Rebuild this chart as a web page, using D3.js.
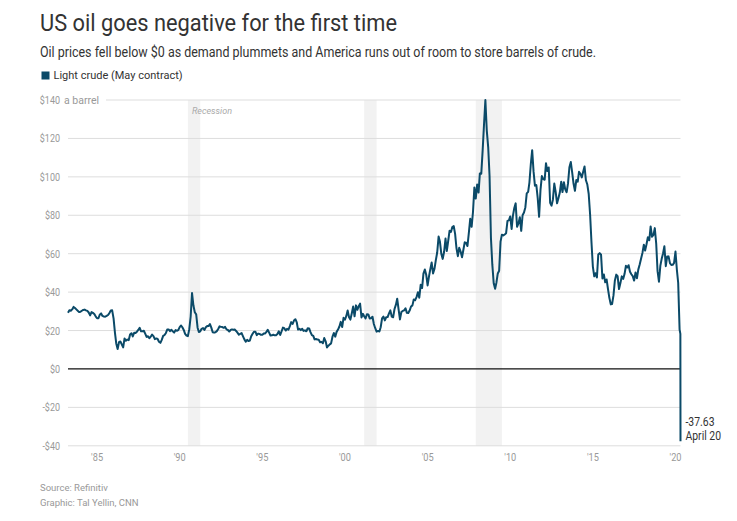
<!DOCTYPE html>
<html>
<head>
<meta charset="utf-8">
<script src="https://cdn.jsdelivr.net/npm/d3@7"></script>
<style>
	body {
		margin: 0;
		background: #fff;
	}
	.cond {
		font-family: "Roboto", "Liberation Sans", sans-serif;
	}
	.reg {
		font-family: "Roboto", "Liberation Sans", sans-serif;
	}
</style>
</head>
<body>
<div id="chart"></div>
<script>
// month-end closes, light crude, first value is 30 March 1983
const closes1983to1989 = [
	29.3, 30.6, 30.3, 31.0, 32.3, 31.7, 31.0, 30.3, 29.6, 29.8,
	30.3, 30.7, 30.9, 30.5, 30.2, 29.4, 27.9, 29.6, 29.2, 28.6, 27.4, 26.4,
	26.4, 28.2, 28.9, 27.6, 27.3, 27.2, 27.6, 28.1, 29.1, 30.4, 30.5, 26.3,
	18.8, 13.3, 10.4, 13.9, 14.3, 12.8, 11.2, 15.9, 14.7, 15.3, 15.0, 17.9,
	18.6, 16.9, 18.8, 18.7, 19.4, 20.3, 21.4, 19.6, 19.6, 19.9, 18.4, 16.7,
	17.0, 16.0, 16.8, 17.9, 17.1, 15.5, 15.9, 15.6, 14.2, 13.6, 15.1, 17.2,
	17.7, 18.6, 20.5, 20.6, 19.7, 20.4, 19.6, 18.9, 20.2, 19.9, 20.2, 21.8,
];
const closes1990s = [
	22.6, 21.7, 20.3, 18.3, 17.4, 17.1, 20.7, 27.3, 39.5, 33.0, 29.5, 28.4,
	21.5, 19.2, 19.6, 20.9, 21.3, 20.3, 21.7, 22.3, 22.3, 23.4, 21.5, 19.1,
	18.9, 19.1, 19.7, 20.8, 22.2, 21.9, 21.8, 21.4, 21.9, 20.6, 20.3, 19.5,
	20.3, 20.6, 20.4, 20.5, 19.8, 18.9, 17.8, 18.3, 18.7, 17.0, 15.4, 14.2,
	15.2, 14.5, 14.8, 17.0, 18.3, 19.4, 19.4, 17.6, 18.4, 18.2, 17.8, 17.8,
	18.4, 18.5, 19.2, 20.4, 18.9, 17.4, 17.5, 17.8, 17.5, 17.6, 18.2, 19.6,
	17.7, 19.5, 21.5, 21.2, 20.0, 20.9, 20.4, 22.3, 24.4, 23.4, 25.2, 25.9,
	24.2, 20.5, 20.9, 20.2, 20.9, 19.8, 20.1, 19.6, 21.2, 21.1, 19.2, 17.6,
	17.2, 15.4, 15.6, 15.3, 15.2, 13.9, 14.1, 13.4, 16.1, 14.4, 11.2, 12.1,
	12.8, 13.3, 16.8, 18.7, 16.8, 19.3, 20.5, 22.1, 24.5, 21.8, 26.6, 25.6,
];
const closes2000s = [
	27.6, 30.4, 26.9, 25.7, 29.0, 32.5, 27.4, 33.1, 30.8, 32.7, 34.0, 26.8,
	28.7, 27.4, 26.3, 28.5, 28.4, 26.3, 26.4, 27.2, 23.4, 21.2, 19.4, 19.8,
	19.5, 21.7, 26.3, 27.3, 25.3, 26.9, 27.0, 28.9, 30.5, 27.2, 26.9, 31.2,
	33.5, 36.6, 31.0, 25.8, 29.6, 30.2, 30.5, 31.6, 29.2, 29.1, 30.4, 32.5,
	33.1, 36.2, 35.8, 37.4, 39.9, 37.1, 43.8, 42.1, 49.6, 51.8, 49.1, 43.5,
	48.2, 51.8, 55.4, 49.7, 52.0, 56.5, 60.6, 68.9, 66.2, 59.8, 57.3, 61.0,
	67.9, 61.4, 66.6, 71.9, 71.3, 73.9, 74.4, 70.3, 62.9, 58.7, 63.1, 61.1,
	58.1, 61.8, 65.9, 65.7, 64.0, 70.7, 78.2, 74.0, 81.7, 94.5, 88.7, 96.0,
	91.8, 101.8, 101.6, 113.5, 127.4, 140.0, 124.1, 115.5, 100.6, 68.1, 54.4, 44.6,
	41.7, 44.8, 49.7, 51.1, 66.3, 69.9, 69.5, 70.0, 70.6, 77.0, 77.3, 79.4,
];
const closes2010s = [
	72.9, 79.7, 83.8, 86.2, 74.0, 75.6, 79.0, 71.9, 80.0, 81.4, 84.1, 91.4,
	92.2, 97.0, 106.7, 113.9, 102.7, 95.4, 95.7, 88.8, 79.2, 93.2, 100.4, 98.8,
	98.5, 107.1, 103.0, 104.9, 86.5, 85.0, 88.1, 96.5, 92.2, 86.2, 88.9, 91.8,
	97.5, 92.1, 97.2, 93.5, 92.0, 96.6, 105.0, 107.7, 102.3, 96.4, 92.7, 98.4,
	97.5, 102.6, 101.6, 99.7, 102.7, 105.4, 98.2, 96.0, 91.2, 80.5, 66.2, 53.3,
	48.2, 49.8, 47.6, 59.6, 60.3, 59.5, 47.1, 49.2, 45.1, 46.6, 41.7, 37.0,
	33.6, 33.8, 38.3, 45.9, 49.1, 48.3, 41.6, 44.7, 48.2, 46.9, 49.4, 53.7,
	52.8, 54.0, 50.6, 49.3, 48.3, 46.0, 50.2, 47.2, 51.7, 54.4, 57.4, 60.4,
	64.7, 61.6, 64.9, 68.6, 67.0, 74.2, 68.8, 69.8, 73.3, 65.3, 50.9, 45.4,
	53.8, 57.2, 60.1, 63.9, 53.5, 58.5, 58.6, 55.1, 54.1, 54.2, 55.2, 61.1,
];
const closes2020 = [51.6, 44.8, 20.5];
// last daily settlements before the contract expired
const lastDays = ["2020-04-17", "2020-04-20"];
const lastValues = [18.27, -37.63];

const recessions = [
	["1990-07-01", "1991-03-31"],
	["2001-03-01", "2001-11-30"],
	["2007-12-01", "2009-06-30"],
];
const yTicks = [-40, -20, 0, 20, 40, 60, 80, 100, 120, 140];
const xTickYears = [1985, 1990, 1995, 2000, 2005, 2010, 2015, 2020];

const width = 737;
const height = 521;
const lineColor = "#0b4a68";

const parse = d3.timeParse("%Y-%m-%d");

// no narrow font installed, so squeeze the text horizontally instead
function condense(sel, k) {
	sel.each(function () {
		const len = this.getComputedTextLength();
		d3.select(this)
			.attr("textLength", len * k)
			.attr("lengthAdjust", "spacingAndGlyphs");
	});
}

// build the monthly series: value i sits at the end of month i after March 1983
const monthly = [].concat(closes1983to1989, closes1990s, closes2000s, closes2010s, closes2020);
const data = monthly.map(function (v, i) {
	const date = i === 0 ? parse("1983-03-30") : d3.timeDay.offset(new Date(1983, 3 + i, 1), -1);
	return { date: date, value: v };
});
for (let i = 0; i < lastDays.length; i++) {
	data.push({ date: parse(lastDays[i]), value: lastValues[i] });
}

const x = d3
	.scaleTime()
	.domain(d3.extent(data, (d) => d.date))
	.range([68, 680.5]);
const y = d3.scaleLinear().domain([-40, 140]).range([445.8, 100]);

const svg = d3
	.select("#chart")
	.append("svg")
	.attr("width", width)
	.attr("height", height);

// headings
svg.append("text")
	.attr("class", "cond")
	.attr("x", 40)
	.attr("y", 31)
	.attr("font-size", 24)
	.attr("fill", "#333")
	.text("US oil goes negative for the first time")
	.attr("textLength", 357)
	.attr("lengthAdjust", "spacingAndGlyphs");
svg.append("text")
	.attr("class", "cond")
	.attr("x", 40)
	.attr("y", 57)
	.attr("font-size", 14)
	.attr("fill", "#333")
	.text("Oil prices fell below $0 as demand plummets and America runs out of room to store barrels of crude.")
	.attr("textLength", 556)
	.attr("lengthAdjust", "spacingAndGlyphs");

// legend
svg.append("rect")
	.attr("x", 41.5)
	.attr("y", 71.5)
	.attr("width", 8)
	.attr("height", 8)
	.attr("fill", lineColor);
svg.append("text")
	.attr("class", "reg")
	.attr("x", 53.5)
	.attr("y", 79)
	.attr("font-size", 11)
	.attr("fill", "#333")
	.text("Light crude (May contract)");

// recession bands
const bands = svg.append("g");
bands
	.selectAll("rect")
	.data(recessions)
	.join("rect")
	.attr("x", (d) => x(parse(d[0])))
	.attr("width", (d) => x(parse(d[1])) - x(parse(d[0])))
	.attr("y", y(140))
	.attr("height", y(-40) - y(140))
	.attr("fill", "#f2f2f2");
bands
	.append("text")
	.attr("class", "reg")
	.attr("x", x(parse(recessions[0][0])) + 4)
	.attr("y", 114)
	.attr("font-size", 9)
	.attr("font-style", "italic")
	.attr("fill", "#aaa")
	.text("Recession");

// y grid and labels
const grid = svg.append("g");
grid.selectAll("line")
	.data(yTicks)
	.join("line")
	.attr("x1", (d) => (d === 140 ? 106 : x.range()[0]))
	.attr("x2", x.range()[1])
	.attr("y1", (d) => y(d))
	.attr("y2", (d) => y(d))
	.attr("stroke", (d) => (d === 0 ? "#111" : "#ddd"))
	.attr("stroke-width", (d) => (d === 0 ? 1.2 : 1));
grid.selectAll("text")
	.data(yTicks)
	.join("text")
	.attr("class", "cond")
	.attr("x", 60)
	.attr("y", (d) => y(d) + 4)
	.attr("text-anchor", "end")
	.attr("font-size", 11.5)
	.attr("fill", "#999")
	.text((d) => (d < 0 ? "-$" + Math.abs(d) : "$" + d))
	.call(condense, 0.78);
svg.append("text")
	.attr("class", "reg")
	.attr("x", 64)
	.attr("y", y(140) + 4)
	.attr("font-size", 10.5)
	.attr("fill", "#999")
	.text("a barrel");

// x axis labels
svg.append("g")
	.selectAll("text")
	.data(xTickYears)
	.join("text")
	.attr("class", "cond")
	.attr("x", (d) => x(new Date(d, 0, 1)))
	.attr("y", 461)
	.attr("text-anchor", "middle")
	.attr("font-size", 11.5)
	.attr("fill", "#999")
	.text((d) => "'" + String(d).slice(2))
	.call(condense, 0.8);

// the price line
const line = d3
	.line()
	.x((d) => x(d.date))
	.y((d) => y(d.value));
svg.append("path")
	.datum(data)
	.attr("d", line)
	.attr("fill", "none")
	.attr("stroke", lineColor)
	.attr("stroke-width", 2)
	.attr("stroke-linejoin", "round");

// end annotation
const last = data[data.length - 1];
svg.append("text")
	.attr("class", "cond")
	.attr("x", x(last.date) + 5)
	.attr("y", 426)
	.attr("font-size", 13)
	.attr("fill", "#333")
	.text(last.value.toFixed(2))
	.call(condense, 0.8);
svg.append("text")
	.attr("class", "cond")
	.attr("x", x(last.date) + 5)
	.attr("y", 440)
	.attr("font-size", 13)
	.attr("fill", "#333")
	.text("April 20")
	.call(condense, 0.8);

// footer
svg.append("text")
	.attr("class", "reg")
	.attr("x", 40)
	.attr("y", 491)
	.attr("font-size", 9.5)
	.attr("fill", "#999")
	.text("Source: Refinitiv");
svg.append("text")
	.attr("class", "reg")
	.attr("x", 40)
	.attr("y", 506)
	.attr("font-size", 9.5)
	.attr("fill", "#999")
	.text("Graphic: Tal Yellin, CNN");
</script>
</body>
</html>
